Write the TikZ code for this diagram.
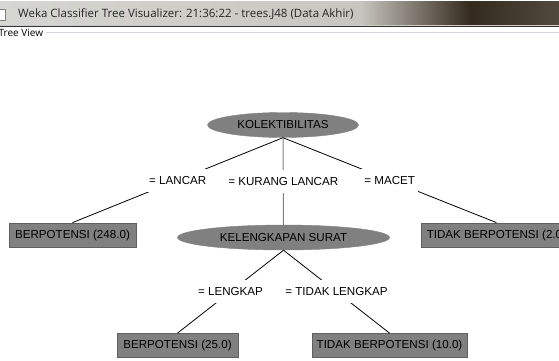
\documentclass[tikz,border=0pt]{standalone}
\usepackage{fontspec}
\setmainfont{Liberation Sans}
\newfontfamily\titlefont{Open Sans}
\usetikzlibrary{shapes.geometric}
\definecolor{nodefill}{RGB}{128,128,128}
\definecolor{leafborder}{RGB}{96,96,96}
\definecolor{barlight}{RGB}{214,214,210}
\definecolor{barmid}{RGB}{200,198,192}
\definecolor{bardark}{RGB}{52,42,30}
\definecolor{sepline}{RGB}{212,216,222}
\tikzset{
  splitnode/.style={ellipse, fill=nodefill, draw=nodefill, inner sep=0pt, minimum height=25pt,
     font=\fontsize{11.6}{13}\selectfont},
  leafnode/.style={rectangle, fill=nodefill, draw=leafborder, line width=0.8pt, inner sep=0pt,
     minimum height=24pt, font=\fontsize{11.6}{13}\selectfont},
  edgelabel/.style={fill=white, inner xsep=3pt, inner ysep=0pt, minimum height=23pt,
     font=\fontsize{11.6}{13}\selectfont},
  edge/.style={draw=black, line width=0.8pt},
  vedge/.style={draw=gray, line width=1pt}
}
\begin{document}
\begin{tikzpicture}[x=1pt,y=-1pt]
\useasboundingbox (0,0) rectangle (559,361);
\clip (0,0) rectangle (559,361);
% window title bar
\fill[white] (0,0) rectangle (559,361);
\shade[left color=barlight, right color=barmid] (0,2) rectangle (360,25);
\shade[left color=barmid, right color=bardark] (360,2) rectangle (470,25);
\shade[left color=bardark, right color=bardark!80!barmid] (470,2) rectangle (559,25);
\fill[gray!40] (0,25) rectangle (559,26);
\fill[black!80] (0,26) rectangle (559,27);
\node[draw=gray, fill=white, minimum width=9pt, minimum height=11pt, inner sep=0pt] (icon) at (1,15) {};
\node[anchor=west, inner sep=0pt, text=black!85, font=\titlefont\fontsize{11.5}{13}\selectfont] (title) at (18,14)
  {Weka Classifier Tree Visualizer: 21:36:22 - trees.J48 (Data Akhir)};
\node[anchor=west, inner sep=0pt, font=\titlefont\fontsize{10}{12}\selectfont] (tv) at (-1.5,33) {Tree View};
\coordinate (sepend) at (559,33);
\draw[sepline, line width=1pt] (tv.east) ++(3,0) -- (sepend);
% tree nodes
\node[splitnode, minimum width=151pt] (kol) at (283,125) {KOLEKTIBILITAS};
\node[splitnode, minimum width=212pt] (kel) at (283.5,237.5) {KELENGKAPAN SURAT};
\node[leafnode, minimum width=127pt] (b248) at (72.5,235) {BERPOTENSI (248.0)};
\node[leafnode, minimum width=150pt, anchor=west] (t2) at (421,235) {TIDAK BERPOTENSI (2.0)};
\node[leafnode, minimum width=121pt] (b25) at (177.5,345.5) {BERPOTENSI (25.0)};
\node[leafnode, minimum width=155pt] (t10) at (389.5,345.5) {TIDAK BERPOTENSI (10.0)};
% edges
\draw[edge] (kol.south) -- (b248.north) node[midway, edgelabel] (l1) {= LANCAR};
\draw[vedge] (kol.south) -- (kel.north) node[midway, edgelabel] (l2) {= KURANG LANCAR};
\draw[edge] (kol.south) -- (t2.north) node[midway, edgelabel] (l3) {= MACET};
\draw[edge] (kel.south) -- (b25.north) node[midway, edgelabel] (l4) {= LENGKAP};
\draw[edge] (kel.south) -- (t10.north) node[midway, edgelabel] (l5) {= TIDAK LENGKAP};
\end{tikzpicture}
\end{document}
